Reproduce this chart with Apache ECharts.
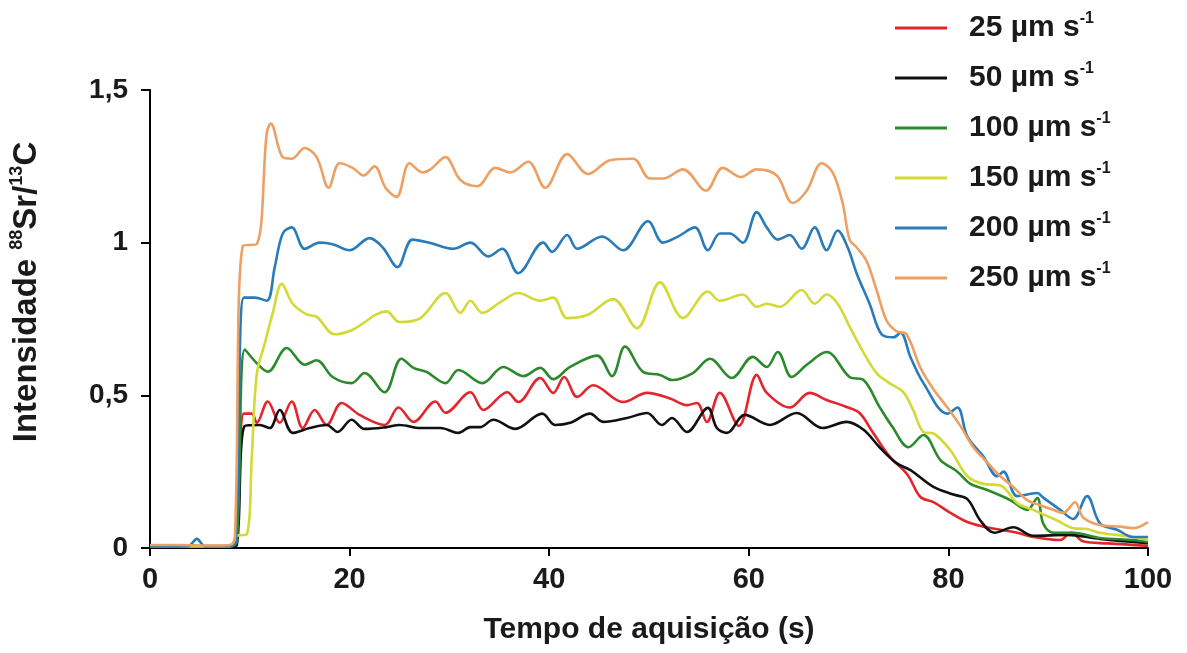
<!DOCTYPE html>
<html>
<head>
<meta charset="utf-8">
<script src="https://cdn.jsdelivr.net/npm/echarts@6/dist/echarts.min.js"></script>
<style>
  html, body { margin: 0; padding: 0; background: #fff; }
  #chart { width: 1187px; height: 653px; }
</style>
</head>
<body>
<div id="chart"></div>
<script>
// series names (legend), the "-1" is drawn as superscript
const seriesNames = ["25 µm s-1", "50 µm s-1", "100 µm s-1", "150 µm s-1", "200 µm s-1", "250 µm s-1"];
const seriesColors = ["#e3262e", "#111111", "#2c8a2c", "#d3d935", "#2a7bb9", "#eda064"];

// [tempo (s), intensidade]
const red25 = [[0,0.005],[2,0.006],[4,0.004],[6,0.005],[8,0.006],[8.6,0.02],[9.4,0.44],[10.2,0.44],[10.7,0.41],[11.8,0.48],[13.0,0.41],[14.2,0.48],[15.3,0.393],[16.5,0.452],[17.7,0.403],[19.2,0.475],[21.0,0.436],[23.5,0.403],[24.9,0.46],[26.4,0.413],[28.6,0.48],[29.6,0.443],[32.1,0.51],[33.4,0.452],[35.8,0.51],[36.9,0.478],[39.1,0.557],[40.4,0.508],[41.5,0.56],[42.8,0.495],[44.4,0.533],[47.4,0.478],[49.8,0.508],[52.1,0.49],[53.8,0.468],[54.8,0.475],[55.8,0.413],[57.1,0.508],[59.0,0.40],[60.8,0.567],[61.8,0.508],[64.1,0.46],[66.1,0.508],[67.8,0.485],[69.8,0.462],[71.1,0.442],[72.4,0.38],[74.1,0.30],[75.9,0.24],[77.2,0.167],[78.5,0.15],[80.2,0.115],[81.9,0.085],[83.5,0.07],[85.2,0.06],[86.9,0.05],[88.5,0.036],[91.2,0.026],[92.3,0.05],[93.5,0.022],[96,0.015],[100,0.007]];
const black50 = [[0,0.004],[4,0.005],[8,0.004],[8.7,0.01],[9.5,0.40],[11.0,0.403],[12.0,0.393],[13.0,0.452],[14.3,0.377],[16.0,0.393],[17.7,0.403],[18.8,0.38],[20.2,0.42],[21.5,0.39],[23.7,0.396],[25.0,0.403],[27.1,0.393],[29.1,0.393],[30.9,0.377],[32.1,0.396],[33.1,0.396],[34.4,0.42],[36.6,0.39],[39.3,0.44],[40.6,0.403],[42.1,0.41],[44.1,0.44],[45.4,0.413],[47.8,0.426],[49.8,0.442],[51.3,0.403],[52.3,0.426],[53.8,0.38],[55.9,0.459],[56.8,0.393],[57.8,0.377],[59.6,0.436],[62.1,0.403],[64.8,0.442],[67.4,0.393],[69.8,0.413],[71.5,0.387],[73.1,0.33],[74.8,0.278],[76.2,0.255],[78.5,0.20],[80.5,0.175],[81.9,0.16],[83.2,0.09],[84.6,0.05],[86.5,0.068],[88.5,0.04],[91.9,0.043],[95.2,0.03],[100,0.016]];
const green100 = [[0,0.005],[4,0.006],[8,0.005],[8.7,0.02],[9.5,0.65],[10.7,0.605],[11.8,0.577],[13.7,0.655],[15.5,0.60],[16.7,0.615],[18.3,0.56],[20.2,0.54],[21.5,0.573],[23.5,0.51],[25.2,0.62],[26.4,0.59],[27.7,0.577],[29.6,0.54],[30.9,0.583],[33.3,0.54],[35.4,0.593],[37.4,0.563],[39.1,0.59],[40.4,0.553],[42.1,0.593],[44.8,0.63],[46.3,0.563],[47.6,0.66],[49.4,0.577],[51.1,0.567],[52.3,0.55],[54.4,0.573],[56.1,0.62],[58.3,0.557],[60.4,0.626],[61.8,0.593],[62.9,0.642],[64.3,0.56],[65.8,0.60],[67.8,0.642],[70.1,0.56],[71.5,0.55],[73.1,0.462],[74.4,0.396],[76.0,0.33],[77.5,0.37],[79.2,0.288],[80.9,0.25],[82.2,0.21],[83.9,0.19],[86.2,0.157],[87.9,0.125],[88.9,0.164],[89.5,0.08],[90.5,0.05],[92.5,0.05],[95.2,0.033],[98.5,0.026],[100,0.02]];
const yellow150 = [[0,0.005],[4,0.005],[8,0.005],[8.7,0.04],[9.7,0.045],[10.2,0.30],[10.7,0.57],[11.5,0.67],[12.3,0.77],[13.2,0.865],[14.3,0.80],[15.7,0.765],[16.7,0.757],[18.5,0.70],[20.3,0.715],[23.7,0.775],[25.0,0.74],[27.1,0.753],[29.6,0.835],[31.1,0.77],[32.1,0.81],[33.3,0.77],[35.1,0.805],[36.9,0.835],[39.1,0.81],[40.4,0.82],[41.8,0.753],[43.8,0.763],[46.4,0.815],[48.8,0.72],[51.1,0.87],[53.4,0.753],[55.9,0.84],[57.1,0.81],[59.4,0.83],[60.8,0.79],[61.8,0.80],[63.1,0.79],[65.3,0.845],[66.6,0.80],[67.8,0.83],[68.9,0.80],[70.1,0.725],[71.5,0.64],[72.8,0.573],[74.1,0.54],[75.5,0.51],[76.5,0.45],[77.5,0.38],[78.5,0.375],[80.2,0.32],[81.9,0.235],[83.5,0.21],[85.2,0.205],[86.9,0.147],[88.5,0.125],[90.9,0.09],[92.5,0.065],[93.9,0.062],[95.2,0.05],[98.5,0.036],[100,0.026]];
const blue200 = [[0,0.005],[3.8,0.006],[4.7,0.03],[5.5,0.006],[8,0.006],[8.6,0.02],[9.4,0.82],[10.5,0.82],[11.7,0.81],[12.5,0.92],[13.3,1.03],[14.2,1.05],[15.5,0.98],[17.0,1.0],[18.3,0.995],[20.0,0.975],[22.0,1.015],[23.3,0.985],[24.8,0.92],[26.3,1.01],[28.0,1.0],[30.4,0.98],[32.1,1.0],[33.9,0.955],[35.3,0.98],[36.9,0.90],[39.4,1.0],[40.3,0.97],[41.8,1.025],[42.8,0.98],[45.3,1.02],[47.4,0.975],[49.9,1.07],[51.4,1.0],[52.9,1.02],[54.6,1.05],[55.9,0.975],[57.1,1.03],[58.1,1.03],[59.4,1.0],[60.8,1.10],[61.8,1.05],[62.9,1.01],[64.1,1.025],[65.3,0.98],[66.6,1.05],[67.8,0.975],[68.9,1.04],[69.9,0.985],[70.8,0.90],[72.1,0.80],[73.3,0.70],[74.5,0.69],[75.2,0.705],[76.2,0.625],[77.5,0.54],[79.9,0.44],[80.9,0.46],[81.9,0.365],[83.5,0.30],[84.9,0.235],[85.5,0.25],[86.9,0.17],[88.9,0.18],[89.5,0.165],[91.2,0.125],[92.5,0.095],[93.9,0.17],[95.2,0.08],[96.9,0.06],[98.5,0.036],[100,0.036]];
const orange250 = [[0,0.01],[3,0.01],[6,0.008],[8,0.01],[8.5,0.03],[9.3,0.99],[10.7,0.995],[11.7,1.36],[12.1,1.39],[13.3,1.28],[14.2,1.275],[15.5,1.31],[16.7,1.28],[17.9,1.18],[19.0,1.26],[20.3,1.245],[21.4,1.22],[22.5,1.25],[23.6,1.18],[24.7,1.15],[26.0,1.26],[27.3,1.23],[28.1,1.24],[29.6,1.28],[31.1,1.205],[32.8,1.185],[34.6,1.245],[36.1,1.23],[37.9,1.265],[39.6,1.18],[41.8,1.29],[43.9,1.225],[46.1,1.27],[48.4,1.275],[50.1,1.21],[51.4,1.21],[53.4,1.24],[55.7,1.17],[57.4,1.245],[59.2,1.215],[60.8,1.24],[62.8,1.22],[64.4,1.13],[65.8,1.17],[67.3,1.26],[68.4,1.23],[69.4,1.13],[70.1,1.01],[70.8,0.985],[71.8,0.94],[72.8,0.845],[73.8,0.745],[74.8,0.71],[75.8,0.70],[77.2,0.59],[78.5,0.52],[79.9,0.46],[81.2,0.40],[82.5,0.33],[83.9,0.28],[85.2,0.235],[86.5,0.20],[87.9,0.157],[89.2,0.14],[90.5,0.125],[91.5,0.115],[92.7,0.15],[93.5,0.10],[95.2,0.075],[97.2,0.07],[98.5,0.065],[100,0.085]];

const seriesData = [red25, black50, green100, yellow150, blue200, orange250];

const font = '"Liberation Sans", Arial, sans-serif';
const textColor = "#1a1a1a";

const chart = echarts.init(document.getElementById("chart"), null, { renderer: "canvas" });

chart.setOption({
    animation: false,
    backgroundColor: "#fff",
    grid: { left: 150, right: 39, top: 90, bottom: 105, containLabel: false },
    legend: {
        orient: "vertical",
        left: 890,
        top: 6,
        icon: "rect",
        itemWidth: 52,
        itemHeight: 3,
        itemGap: 18,
        data: seriesNames,
        formatter: function (name) {
            return "{t|" + name.replace("-1", "") + "}{s|-1}";
        },
        textStyle: {
            color: textColor,
            padding: [0, 0, 0, 17],
            rich: {
                t: { fontFamily: font, fontWeight: "bold", fontSize: 30, lineHeight: 34, color: textColor },
                s: { fontFamily: font, fontWeight: "bold", fontSize: 16, lineHeight: 20, verticalAlign: "top", color: textColor }
            }
        }
    },
    xAxis: {
        type: "value",
        min: 0,
        max: 100,
        interval: 20,
        name: "Tempo de aquisição (s)",
        nameLocation: "middle",
        nameGap: 67,
        nameTextStyle: { fontFamily: font, fontWeight: "bold", fontSize: 30, color: textColor },
        axisLine: { lineStyle: { color: "#000", width: 2 } },
        axisTick: { show: true, length: 8, lineStyle: { color: "#000", width: 2 } },
        axisLabel: { fontFamily: font, fontWeight: "bold", fontSize: 29, color: textColor, margin: 17 },
        splitLine: { show: false }
    },
    yAxis: {
        type: "value",
        min: 0,
        max: 1.5,
        interval: 0.5,
        name: "Intensidade {s|88}Sr/{s|13}C",
        nameLocation: "middle",
        nameGap: 104,
        nameTextStyle: {
            fontFamily: font, fontWeight: "bold", fontSize: 33, color: textColor, lineHeight: 38,
            padding: [0, 0, 0, 54],
            rich: {
                s: { fontFamily: font, fontWeight: "bold", fontSize: 18, lineHeight: 20, verticalAlign: "top", color: textColor }
            }
        },
        axisLine: { show: true, lineStyle: { color: "#000", width: 2 } },
        axisTick: { show: true, length: 9, lineStyle: { color: "#000", width: 2 } },
        axisLabel: {
            fontFamily: font, fontWeight: "bold", fontSize: 28, color: textColor, margin: 22,
            formatter: function (v) { return String(v).replace(".", ","); }
        },
        splitLine: { show: false }
    },
    series: seriesNames.map(function (name, i) {
        return {
            name: name,
            type: "line",
            data: seriesData[i],
            smooth: 0.35,
            symbol: "none",
            color: seriesColors[i],
            lineStyle: { width: 2.6, color: seriesColors[i] }
        };
    })
});
</script>
</body>
</html>
